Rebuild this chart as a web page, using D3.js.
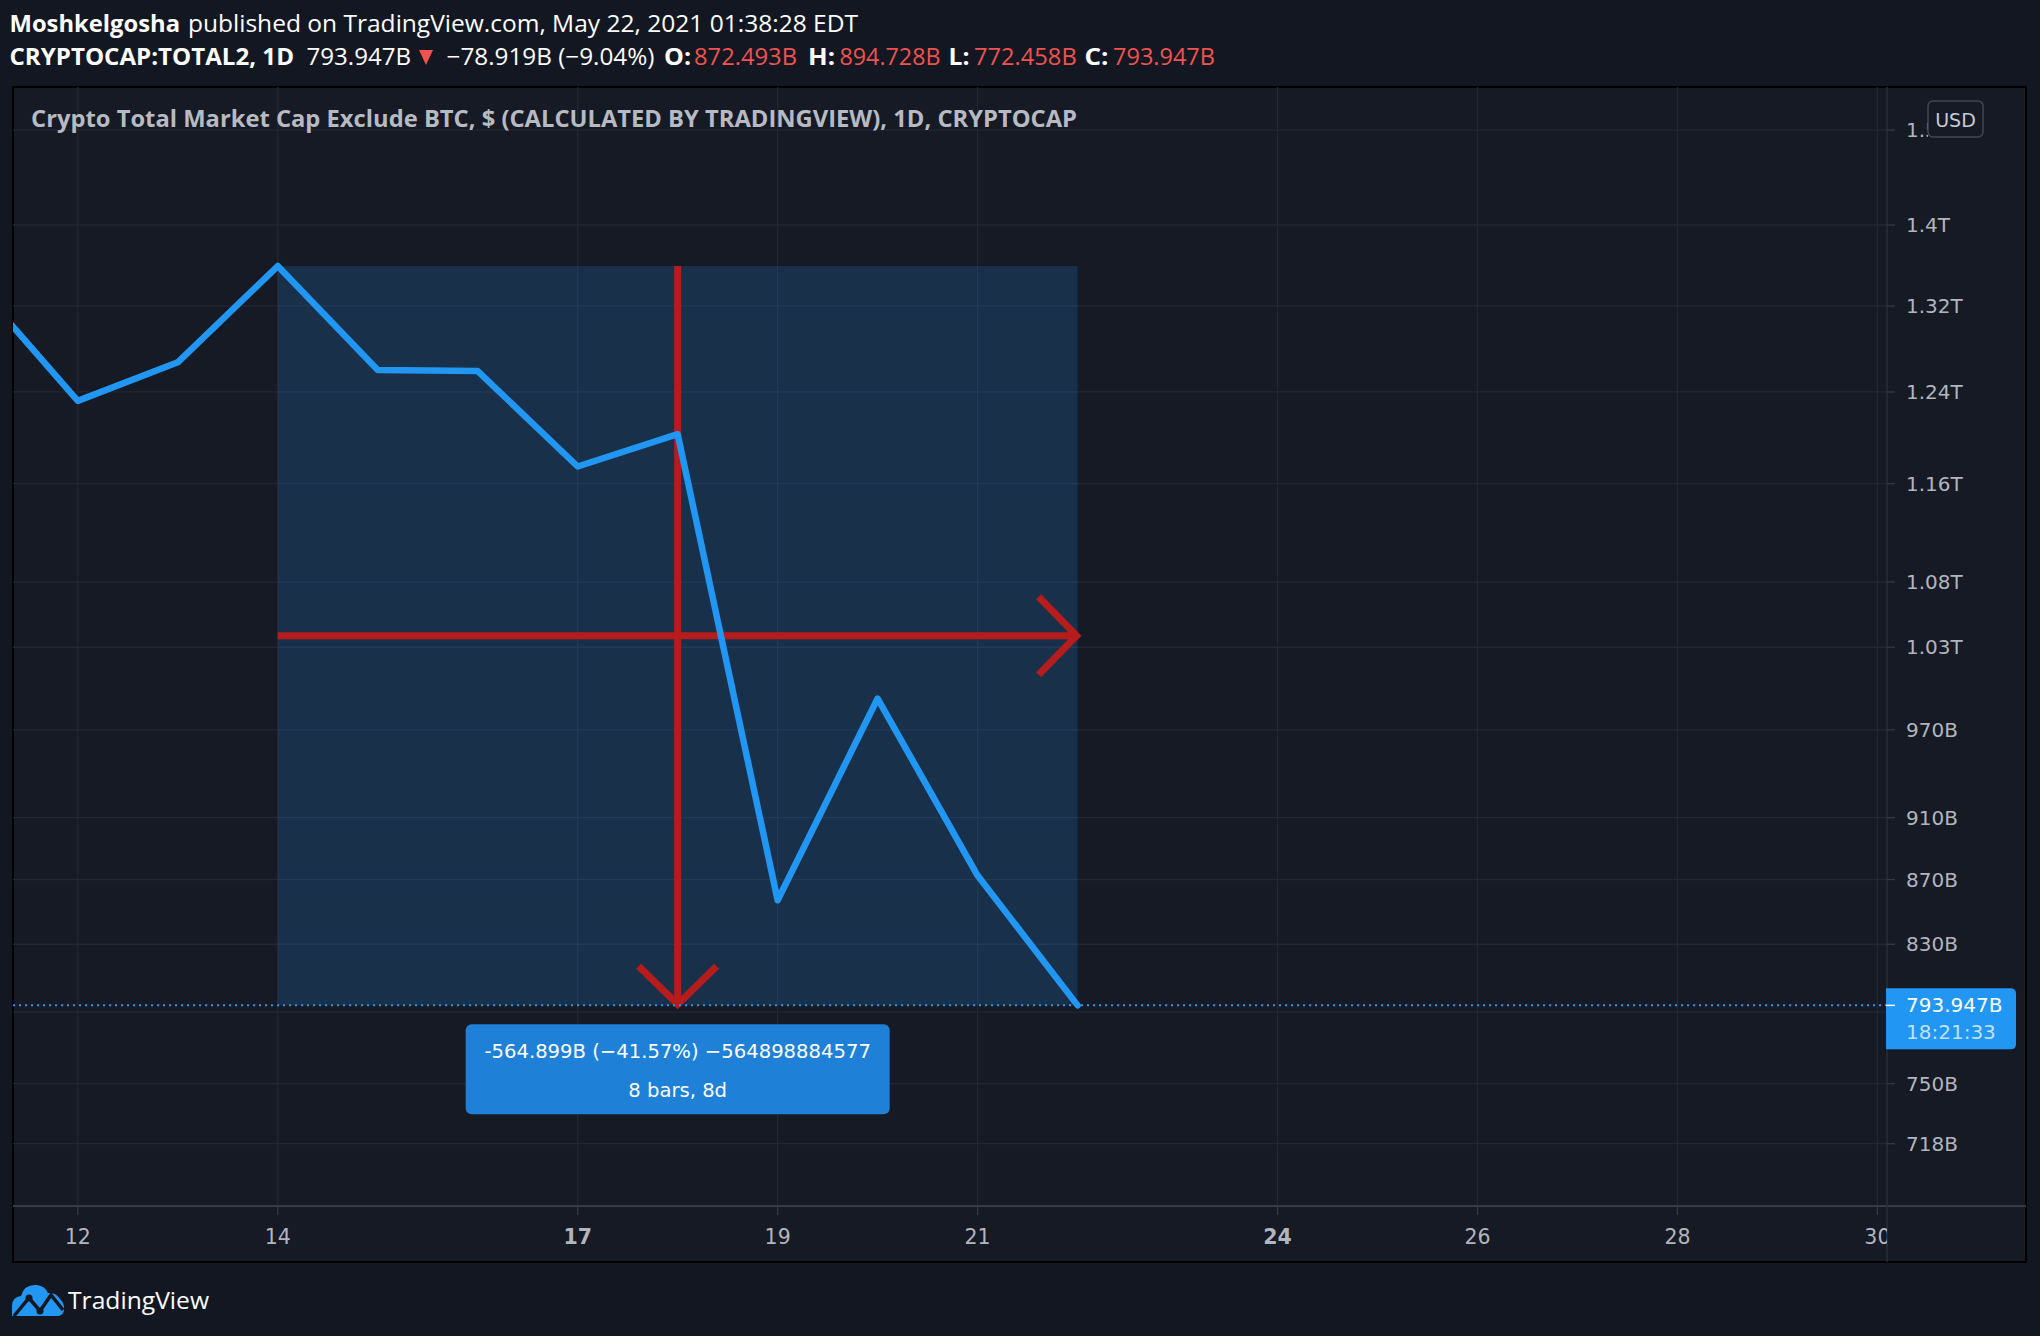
<!DOCTYPE html>
<html><head><meta charset="utf-8">
<script src="https://cdn.jsdelivr.net/npm/d3@7"></script>
<style>
html,body{margin:0;padding:0;background:#131722;}
svg{display:block;}
</style></head>
<body>
<svg id="chart" width="2040" height="1336"></svg>
<script>
// ---------- data ----------
const dates  = ["2021-05-11","2021-05-12","2021-05-13","2021-05-14","2021-05-15","2021-05-16",
                "2021-05-17","2021-05-18","2021-05-19","2021-05-20","2021-05-21","2021-05-22"];
const closes = [1339, 1232, 1267, 1358.846, 1260, 1259, 1174.6, 1202.5, 857, 992.3, 872.493, 793.947]; // billions USD

const xTickDates  = ["2021-05-12","2021-05-14","2021-05-17","2021-05-19","2021-05-21","2021-05-24","2021-05-26","2021-05-28","2021-05-30"];
const xTickLabels = ["12","14","17","19","21","24","26","28","30"];
const xTickBold   = [false,false,true,false,false,true,false,false,false];

// 790B grid line exists but its label is hidden behind the last-price label
const yTickValues = [1500,1400,1320,1240,1160,1080,1030,970,910,870,830,790,750,718];
const yTickLabels = ["1.5T","1.4T","1.32T","1.24T","1.16T","1.08T","1.03T","970B","910B","870B","830B","","750B","718B"];

const rangeStartDate = "2021-05-14", rangeEndDate = "2021-05-22";
const rangeStartPrice = 1358.846, rangeEndPrice = 793.947;
const rangeLabel1 = "-564.899B (\u221241.57%) \u2212564898884577";
const rangeLabel2 = "8 bars, 8d";

const lastPrice = 793.947, lastPriceLabel = "793.947B", countdown = "18:21:33";

const header1Bold = "Moshkelgosha", header1Rest = "published on TradingView.com, May 22, 2021 01:38:28 EDT";
const symbolText = "CRYPTOCAP:TOTAL2, 1D", lastText = "793.947B", changeText = "\u221278.919B (\u22129.04%)";
const ohlcKeys = ["O:","H:","L:","C:"];
const ohlcVals = ["872.493B","894.728B","772.458B","793.947B"];
const chartTitle = "Crypto Total Market Cap Exclude BTC, $ (CALCULATED BY TRADINGVIEW), 1D, CRYPTOCAP";

// ---------- layout ----------
const parse = d3.utcParse("%Y-%m-%d");
const W = 2040, H = 1336;
const panel = {l:13, t:87, r:2026, b:1262};
const plot  = {l:13, t:87, r:1886, b:1206};

const svg = d3.select("#chart");
const x = d3.scaleUtc().domain([parse("2021-05-12"), parse("2021-05-30")]).range([77.8, 1877.4]);
const y = d3.scaleLog().domain([718, 1400]).range([1143.7, 225]);

const BG = "#131722", PANEL = "#161a25", GRID = "#232734", TXT = "#b2b5be";
const AX = "DejaVu Sans, sans-serif", HF = "'Open Sans', sans-serif";

svg.append("rect").attr("width", W).attr("height", H).attr("fill", BG);
svg.append("rect").attr("x", panel.l).attr("y", panel.t).attr("width", panel.r-panel.l).attr("height", panel.b-panel.t)
   .attr("fill", PANEL).attr("stroke", "#000").attr("stroke-width", 2);

const defs = svg.append("defs");
defs.append("clipPath").attr("id","plotclip").append("rect")
  .attr("x", plot.l).attr("y", plot.t).attr("width", plot.r-plot.l).attr("height", plot.b-plot.t);
defs.append("clipPath").attr("id","usdclip").append("rect")
  .attr("x", plot.r).attr("y", plot.t).attr("width", 1928-plot.r).attr("height", 60);

const g = svg.append("g").attr("clip-path","url(#plotclip)");

// grid
g.append("g").selectAll("line").data(xTickDates).join("line")
  .attr("x1", d=>x(parse(d))).attr("x2", d=>x(parse(d)))
  .attr("y1", plot.t).attr("y2", plot.b).attr("stroke", GRID).attr("stroke-width",1.3);
g.append("g").selectAll("line").data(yTickValues).join("line")
  .attr("x1", plot.l).attr("x2", plot.r)
  .attr("y1", d=>y(d)).attr("y2", d=>y(d)).attr("stroke", GRID).attr("stroke-width",1.3);

// date/price range shading
const rx0 = x(parse(rangeStartDate)), rx1 = x(parse(rangeEndDate));
const ry0 = y(rangeStartPrice), ry1 = y(rangeEndPrice);
g.append("rect").attr("x", rx0).attr("y", ry0).attr("width", rx1-rx0).attr("height", ry1-ry0)
  .attr("fill", "#2196f3").attr("opacity", 0.18);

// red arrows
const RED = "#b71c1c", midX = (rx0+rx1)/2, midY = (ry0+ry1)/2, ah = 39;
const arrows = g.append("g").attr("stroke", RED).attr("stroke-width", 7).attr("fill","none");
arrows.append("line").attr("x1", midX).attr("x2", midX).attr("y1", ry0).attr("y2", ry1);
arrows.append("polyline").attr("points", [[midX-ah, ry1-ah],[midX, ry1-1],[midX+ah, ry1-ah]].join(" "));
arrows.append("line").attr("x1", rx0).attr("x2", rx1).attr("y1", midY).attr("y2", midY);
arrows.append("polyline").attr("points", [[rx1-ah, midY-ah],[rx1-1, midY],[rx1-ah, midY+ah]].join(" "));

// price line
const series = dates.map((d,i)=>({date: parse(d), v: closes[i]}));
g.append("path").datum(series)
  .attr("d", d3.line().x(d=>x(d.date)).y(d=>y(d.v)))
  .attr("fill","none").attr("stroke","#2196f3").attr("stroke-width",6.5)
  .attr("stroke-linejoin","round").attr("stroke-linecap","round");

// last price dotted line
g.append("line").attr("x1", plot.l).attr("x2", plot.r).attr("y1", y(lastPrice)).attr("y2", y(lastPrice))
  .attr("stroke","#2196f3").attr("stroke-width",2).attr("stroke-dasharray","2,4");

// range label box
const bw = 424, bh = 90, by = ry1 + 19;
g.append("rect").attr("x", midX-bw/2).attr("y", by).attr("width", bw).attr("height", bh).attr("rx", 6)
  .attr("fill","#1e80d6");
g.append("text").attr("x", midX).attr("y", by+27).attr("text-anchor","middle").attr("dominant-baseline","central")
  .attr("font-family", AX).attr("font-size", 19.6).attr("fill","#fff").text(rangeLabel1);
g.append("text").attr("x", midX).attr("y", by+66).attr("text-anchor","middle").attr("dominant-baseline","central")
  .attr("font-family", AX).attr("font-size", 19.6).attr("fill","#fff").text(rangeLabel2);

// chart title
svg.append("text").attr("x", 31).attr("y", 127).attr("font-family", HF).attr("font-weight", 700)
  .attr("font-size", 23).attr("fill", "#b7bac3")
  .attr("textLength", 1046).attr("lengthAdjust","spacingAndGlyphs").text(chartTitle);

// ---------- axes ----------
svg.append("line").attr("x1", plot.l).attr("x2", panel.r).attr("y1", plot.b).attr("y2", plot.b)
  .attr("stroke","#363a45").attr("stroke-width",2);
svg.append("line").attr("x1", plot.r+1).attr("x2", plot.r+1).attr("y1", panel.t).attr("y2", panel.b)
  .attr("stroke","#2a2e39").attr("stroke-width",1.5);

// x ticks
const xt = svg.append("g");
xt.selectAll("line").data(xTickDates).join("line")
  .attr("x1", d=>x(parse(d))).attr("x2", d=>x(parse(d))).attr("y1", plot.b).attr("y2", plot.b+9)
  .attr("stroke","#363a45").attr("stroke-width",1.3);
defs.append("clipPath").attr("id","xlabclip").append("rect")
  .attr("x", plot.l).attr("y", plot.b).attr("width", plot.r-plot.l+1).attr("height", panel.b-plot.b);
xt.append("g").attr("clip-path","url(#xlabclip)").selectAll("text").data(xTickDates).join("text")
  .attr("x", d=>x(parse(d))).attr("y", 1244).attr("text-anchor","middle")
  .attr("font-family", AX).attr("font-size", 20.5).attr("fill", TXT)
  .attr("font-weight", (d,i)=>xTickBold[i] ? 700 : 400)
  .text((d,i)=>xTickLabels[i]);

// y ticks
const yt = svg.append("g");
yt.selectAll("line").data(yTickValues).join("line")
  .attr("x1", plot.r+1).attr("x2", plot.r+9).attr("y1", d=>y(d)).attr("y2", d=>y(d))
  .attr("stroke","#363a45").attr("stroke-width",1.3);
yt.selectAll("text").data(yTickValues.filter((d,i)=>yTickLabels[i] !== "")).join("text")
  .attr("x", 1906).attr("y", d=>y(d)).attr("dominant-baseline","central")
  .attr("font-family", AX).attr("font-size", 20).attr("fill", TXT)
  .attr("clip-path", d => y(d) < 160 ? "url(#usdclip)" : null)
  .text(d=>yTickLabels[yTickValues.indexOf(d)]);

// USD badge
svg.append("rect").attr("x", 1928).attr("y", 101).attr("width", 55).attr("height", 36).attr("rx", 5)
  .attr("fill", PANEL).attr("stroke","#434651").attr("stroke-width",1.5);
svg.append("text").attr("x", 1955.5).attr("y", 120).attr("text-anchor","middle").attr("dominant-baseline","central")
  .attr("font-family", AX).attr("font-size", 19).attr("fill","#c8cad2").text("USD");

// last price label
const ly = y(lastPrice);
const lp = svg.append("g");
lp.append("path")
  .attr("d", `M${plot.r},${ly-17} H${2011} a5,5 0 0 1 5,5 V${ly+39} a5,5 0 0 1 -5,5 H${plot.r} Z`)
  .attr("fill","#2196f3");
lp.append("line").attr("x1", plot.r).attr("x2", plot.r+9).attr("y1", ly).attr("y2", ly).attr("stroke","#fff").attr("stroke-width",1.5);
lp.append("text").attr("x", 1906).attr("y", ly).attr("dominant-baseline","central")
  .attr("font-family", AX).attr("font-size", 20).attr("fill","#fff").text(lastPriceLabel);
lp.append("text").attr("x", 1906).attr("y", ly+27).attr("dominant-baseline","central")
  .attr("font-family", AX).attr("font-size", 20).attr("fill","rgba(255,255,255,0.72)").text(countdown);

// ---------- header ----------
const hs = 23.5;
function seg(parent, txt, x0, yb, w, opts) {
  const t = parent.append("text").attr("x", x0).attr("y", yb).attr("font-family", HF).attr("font-size", hs)
    .attr("fill", opts.fill || "#fff").attr("font-weight", opts.bold ? 700 : 400).text(txt);
  if (w) t.attr("textLength", w).attr("lengthAdjust","spacingAndGlyphs");
  return t;
}
const hdr = svg.append("g");
seg(hdr, header1Bold, 9.5, 32, 170.5, {bold:true});
seg(hdr, header1Rest, 188, 32, 670, {});
const RV = "#ef5350";
seg(hdr, symbolText, 9.5, 65, 284.5, {bold:true});
seg(hdr, lastText, 306.5, 65, 104.5, {});
hdr.append("path").attr("d","M419,50 L433,50 L426,65 Z").attr("fill", RV);
seg(hdr, changeText, 446.5, 65, 208, {});
const keyX = [664, 808, 948.5, 1084.5], keyW = [27, 27, 21, 24];
const valX = [694, 839.5, 974, 1113], valW = [103, 101, 102.7, 102];
ohlcKeys.forEach((k,i)=>{
  seg(hdr, k, keyX[i], 65, keyW[i], {bold:true});
  seg(hdr, ohlcVals[i], valX[i], 65, valW[i], {fill: RV});
});

// ---------- TradingView logo ----------
const logo = svg.append("g");
logo.append("path")
  .attr("d","M12,1316 L12,1306 Q12,1297 21,1296 Q24,1284 37,1285 Q45,1286 48,1293 Q56,1292 60,1299 Q65,1304 64,1310 Q63,1316 57,1316 Z")
  .attr("fill","#2196f3");
logo.append("polyline").attr("points","14,1316 29,1298 40,1311 51,1295 63,1310")
  .attr("fill","none").attr("stroke","#131722").attr("stroke-width",3.5);
logo.append("circle").attr("cx",29).attr("cy",1298).attr("r",3.5).attr("fill","#131722");
logo.append("circle").attr("cx",40).attr("cy",1311).attr("r",3.5).attr("fill","#131722");
svg.append("text").attr("x", 68).attr("y", 1309).attr("font-family", HF).attr("font-size", 24)
  .attr("fill","#fff").attr("textLength", 141).attr("lengthAdjust","spacingAndGlyphs").text("TradingView");
</script>
</body></html>
